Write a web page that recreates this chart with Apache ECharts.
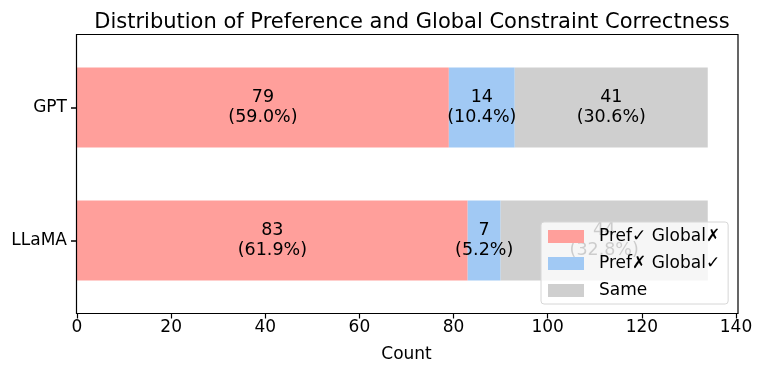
<!DOCTYPE html>
<html>
<head>
<meta charset="utf-8">
<script src="https://cdn.jsdelivr.net/npm/echarts@6/dist/echarts.min.js"></script>
<style>
  html, body { margin: 0; padding: 0; background: #fff; }
  #chart { width: 762px; height: 372px; }
</style>
</head>
<body>
<div id="chart"></div>
<script>
  // data
  const models = ['GPT', 'LLaMA']
  const seriesNames = ['Pref✓ Global✗', 'Pref✗ Global✓', 'Same']
  const prefOnly = [79, 83]
  const globalOnly = [14, 7]
  const same = [41, 44]
  const xTicks = [0, 20, 40, 60, 80, 100, 120, 140]

  const colors = ['#ff9f9b', '#a1c9f4', '#cfcfcf']
  const font = 'DejaVu Sans'
  const totals = models.map((m, i) => prefOnly[i] + globalOnly[i] + same[i])

  let chart = echarts.init(document.getElementById('chart'), null, { renderer: 'canvas' })

  const makeSeries = (name, values, idx) => ({
    name: name,
    type: 'bar',
    stack: 'total',
    barWidth: '60%',
    data: values,
    itemStyle: { color: colors[idx] },
    label: {
      show: true,
      position: 'inside',
      color: '#000',
      fontFamily: font,
      fontSize: 17.5,
      lineHeight: 20,
      formatter: (p) => {
        let pct = (p.value / totals[p.dataIndex] * 100).toFixed(1)
        return `${p.value}\n(${pct}%)`
      },
    },
  })

  // axis lines are kept invisible, the frame below is drawn as one rectangle
  const hiddenLine = { show: true, lineStyle: { color: 'rgba(0,0,0,0)' } }

  chart.setOption({
    animation: false,
    title: {
      text: 'Distribution of Preference and Global Constraint Correctness',
      left: 407,
      textAlign: 'center',
      top: 7,
      textStyle: { fontFamily: font, fontSize: 21, fontWeight: 'normal', color: '#000' },
    },
    grid: { left: 77, right: 26, top: 41, bottom: 65 },
    legend: {
      orient: 'vertical',
      left: 541,
      top: 222,
      data: seriesNames,
      icon: 'rect',
      itemWidth: 36,
      itemHeight: 13,
      itemGap: 10,
      padding: [6, 8, 5, 7],
      backgroundColor: 'rgba(255,255,255,0.8)',
      borderColor: '#d6d6d6',
      borderWidth: 1,
      borderRadius: 3,
      textStyle: { fontFamily: font, fontSize: 17, color: '#000', padding: [0, 0, 0, 10] },
    },
    xAxis: {
      type: 'value',
      min: 0,
      max: 140,
      interval: 20,
      offset: 6.5,
      name: 'Count',
      nameLocation: 'middle',
      nameGap: 33,
      nameTextStyle: { fontFamily: font, fontSize: 17, color: '#000' },
      axisLine: hiddenLine,
      axisTick: { show: true, length: 5, lineStyle: { color: '#000', width: 1.2 } },
      axisLabel: {
        fontFamily: font, fontSize: 17, color: '#000', margin: 6,
        formatter: (v) => (xTicks.includes(v) ? String(v) : ''),
      },
      splitLine: { show: false },
    },
    yAxis: {
      type: 'category',
      inverse: true,
      data: models,
      axisLine: hiddenLine,
      axisTick: { show: true, alignWithLabel: true, length: 6, lineStyle: { color: '#000', width: 1.5 } },
      axisLabel: { fontFamily: font, fontSize: 17, color: '#000', margin: 10 },
    },
    graphic: [{
      type: 'rect',
      z: 100,
      silent: true,
      shape: { x: 76.5, y: 34.5, width: 661.5, height: 279 },
      style: { fill: 'none', stroke: '#000', lineWidth: 1.2 },
    }],
    series: [
      makeSeries(seriesNames[0], prefOnly, 0),
      makeSeries(seriesNames[1], globalOnly, 1),
      makeSeries(seriesNames[2], same, 2),
    ],
  })
</script>
</body>
</html>
